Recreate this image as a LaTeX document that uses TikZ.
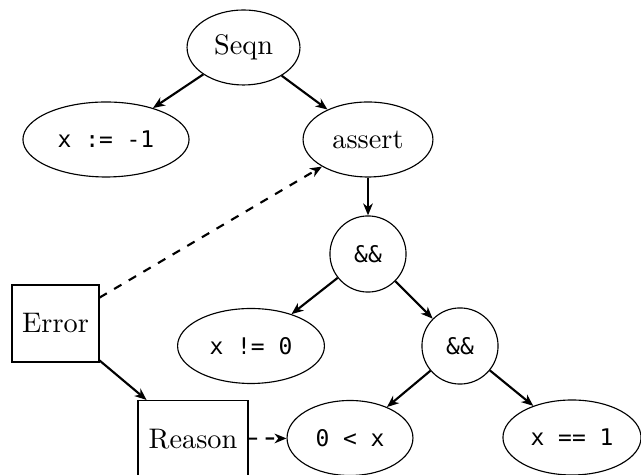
\documentclass[tikz,border=0pt]{standalone}
\usepackage{fontspec}
\setmonofont{DejaVu Sans Mono}[Scale=0.81]
\usetikzlibrary{shapes.geometric,arrows.meta}
\begin{document}
\begin{tikzpicture}[x=0.3534pt,y=-0.3534pt,
  ell/.style={draw,ellipse,inner sep=0pt,minimum height=26.5pt},
  boxn/.style={draw,rectangle,inner sep=0pt,minimum height=27.2pt},
  conn/.style={-{Stealth[length=4.2pt,width=3.4pt,inset=1.3pt]},line width=0.75pt},
  dconn/.style={conn,dashed}]
\useasboundingbox (0,0) rectangle (641,475);
\node[ell,minimum width=39.9pt] (seqn) at (243.5,47.5) {Seqn};
\node[ell,minimum width=58.7pt] (assign) at (106,139.5) {\texttt{x := -1}};
\node[ell,minimum width=45.9pt] (assert) at (368,139.5) {assert};
\node[ell,minimum width=26.9pt,minimum height=26.9pt] (and1) at (368,254) {\texttt{\&\&}};
\node[boxn,minimum width=30.7pt] (error) at (55.5,323.5) {Error};
\node[ell,minimum width=51.9pt] (neq) at (251,346) {\texttt{x != 0}};
\node[ell,minimum width=26.9pt,minimum height=26.9pt] (and2) at (460,346) {\texttt{\&\&}};
\node[boxn,minimum width=38.9pt] (reason) at (193,439) {Reason};
\node[ell,minimum width=44.5pt] (lt) at (350,438) {\texttt{0 < x}};
\node[ell,minimum width=48.8pt] (eq) at (572,437.5) {\texttt{x == 1}};
\draw[conn] (seqn) -- (assign);
\draw[conn] (seqn) -- (assert);
\draw[conn] (assert) -- (and1);
\draw[conn] (and1) -- (neq);
\draw[conn] (and1) -- (and2);
\draw[conn] (and2) -- (lt);
\draw[conn] (and2) -- (eq);
\draw[dconn] (error) -- (assert);
\draw[conn] (error) -- (reason);
\draw[dconn] (reason) -- (lt);
\end{tikzpicture}
\end{document}
